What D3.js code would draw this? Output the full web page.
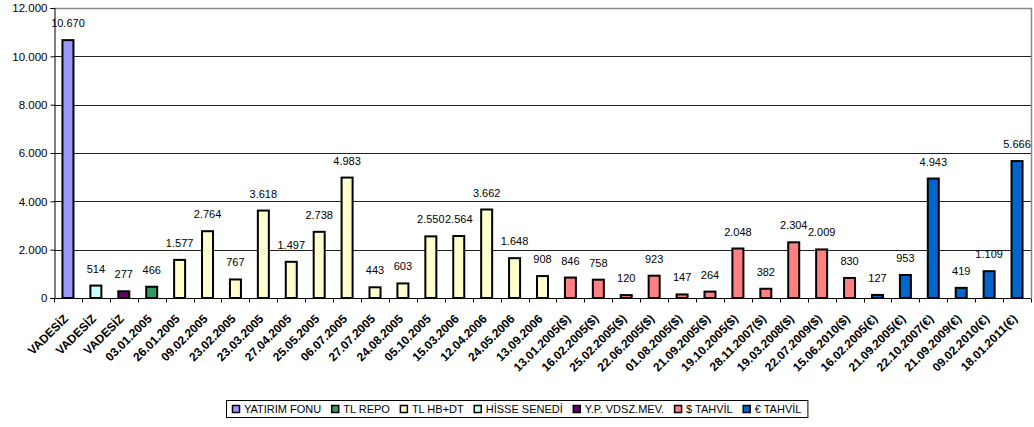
<!DOCTYPE html>
<html>
<head>
<meta charset="utf-8">
<script src="https://cdn.jsdelivr.net/npm/d3@7"></script>
<style>
	body { margin: 0; background: #fff; }
	text { font-family: Arial, "Liberation Sans", sans-serif; }
</style>
</head>
<body>
<script>
var labels = ["VADESİZ", "VADESİZ", "VADESİZ", "03.01.2005", "26.01.2005", "09.02.2005", "23.02.2005",
	"23.03.2005", "27.04.2005", "25.05.2005", "06.07.2005", "27.07.2005", "24.08.2005", "05.10.2005",
	"15.03.2006", "12.04.2006", "24.05.2006", "13.09.2006",
	"13.01.2005($)", "16.02.2005($)", "25.02.2005($)", "22.06.2005($)", "01.08.2005($)", "21.09.2005($)",
	"19.10.2005($)", "28.11.2007($)", "19.03.2008($)", "22.07.2009($)", "15.06.2010($)",
	"16.02.2005(€)", "21.09.2005(€)", "22.10.2007(€)", "21.09.2009(€)", "09.02.2010(€)", "18.01.2011(€)"]
var values = [10670, 514, 277, 466, 1577, 2764, 767, 3618, 1497, 2738, 4983, 443, 603, 2550, 2564, 3662, 1648, 908,
	846, 758, 120, 923, 147, 264, 2048, 382, 2304, 2009, 830,
	127, 953, 4943, 419, 1109, 5666]
var types = ["YATIRIM FONU", "HİSSE SENEDİ", "Y.P. VDSZ.MEV.", "TL REPO",
	"TL HB+DT", "TL HB+DT", "TL HB+DT", "TL HB+DT", "TL HB+DT", "TL HB+DT", "TL HB+DT",
	"TL HB+DT", "TL HB+DT", "TL HB+DT", "TL HB+DT", "TL HB+DT", "TL HB+DT", "TL HB+DT",
	"$ TAHVİL", "$ TAHVİL", "$ TAHVİL", "$ TAHVİL", "$ TAHVİL", "$ TAHVİL", "$ TAHVİL",
	"$ TAHVİL", "$ TAHVİL", "$ TAHVİL", "$ TAHVİL",
	"€ TAHVİL", "€ TAHVİL", "€ TAHVİL", "€ TAHVİL", "€ TAHVİL", "€ TAHVİL"]
var legendNames = ["YATIRIM FONU", "TL REPO", "TL HB+DT", "HİSSE SENEDİ", "Y.P. VDSZ.MEV.", "$ TAHVİL", "€ TAHVİL"]
var legendColors = ["#9999ff", "#339966", "#ffffcc", "#ccffff", "#660066", "#ff8080", "#0066cc"]
var yTicks = [0, 2000, 4000, 6000, 8000, 10000, 12000]

var w = 1034
var h = 427
var plotLeft = 54, plotRight = 1031, plotTop = 8, plotBottom = 298

var fmt = d3.formatLocale({ decimal: ",", thousands: ".", grouping: [3], currency: ["", ""] }).format(",d")

var svg = d3.select("body").append("svg")
	.attr("width", w)
	.attr("height", h)

var xScale = d3.scaleBand()
	.domain(d3.range(values.length))
	.range([plotLeft, plotRight])

var yScale = d3.scaleLinear()
	.domain([0, 12000])
	.range([plotBottom, plotTop])

var colorScale = d3.scaleOrdinal().domain(legendNames).range(legendColors)

// gridlines
svg.append("g")
	.selectAll("line")
	.data(yTicks.slice(1, -1))
	.enter().append("line")
	.attr("x1", plotLeft).attr("x2", plotRight)
	.attr("y1", (d) => Math.round(yScale(d)) + 0.5).attr("y2", (d) => Math.round(yScale(d)) + 0.5)
	.attr("stroke", "#222")

// plot border (top + right)
svg.append("path")
	.attr("d", "M" + plotLeft + "," + (plotTop + 0.5) + "H" + (plotRight + 0.5) + "V" + plotBottom)
	.attr("fill", "none")
	.attr("stroke", "#888")
	.attr("stroke-width", 1.5)

// bars
var bw = 11
svg.append("g")
	.selectAll("rect")
	.data(values)
	.enter().append("rect")
	.attr("x", (d, i) => xScale(i) + xScale.bandwidth() / 2 - bw / 2)
	.attr("y", (d) => yScale(d))
	.attr("width", bw)
	.attr("height", (d) => plotBottom - yScale(d))
	.attr("fill", (d, i) => colorScale(types[i]))
	.attr("stroke", "#000")
	.attr("stroke-width", 2)

// value labels
svg.append("g")
	.selectAll("text")
	.data(values)
	.enter().append("text")
	.attr("x", (d, i) => xScale(i) + xScale.bandwidth() / 2)
	.attr("y", (d) => yScale(d) - 13)
	.attr("text-anchor", "middle")
	.style("font-size", "11px")
	.attr("fill", "#000")
	.text((d) => fmt(d))

// y axis
var yAxis = d3.axisLeft(yScale).tickValues(yTicks).tickSize(4).tickFormat(fmt)
svg.append("g")
	.attr("transform", "translate(" + (plotLeft + 0.5) + ",0)")
	.call(yAxis)
	.call((g) => g.select(".domain").attr("stroke", "#000"))
	.call((g) => g.selectAll("text").style("font-family", "Arial, 'Liberation Sans', sans-serif")
		.style("font-size", "11.5px").attr("x", -7))

// x axis
var xg = svg.append("g")
	.attr("transform", "translate(0," + (plotBottom + 0.5) + ")")
xg.append("line")
	.attr("x1", plotLeft - 4).attr("x2", plotRight)
	.attr("stroke", "#000")
xg.selectAll("line.tick")
	.data(d3.range(values.length + 1))
	.enter().append("line")
	.attr("class", "tick")
	.attr("x1", (d) => Math.round(plotLeft + d * xScale.step()) + 0.5)
	.attr("x2", (d) => Math.round(plotLeft + d * xScale.step()) + 0.5)
	.attr("y1", 0).attr("y2", 4)
	.attr("stroke", "#000")
xg.selectAll("text")
	.data(labels)
	.enter().append("text")
	.attr("transform", (d, i) => "translate(" + (xScale(i) + xScale.bandwidth() / 2 - 2) + ",18) rotate(-45)")
	.attr("text-anchor", "end")
	.attr("dy", "0.35em")
	.style("font-size", "12px")
	.style("font-weight", "bold")
	.text((d) => d)

// legend
var legend = svg.append("g")
var lx = 230
var ly = 409
legendNames.forEach((name, i) => {
	legend.append("rect")
		.attr("x", lx + 2.5).attr("y", ly - 3.5)
		.attr("width", 7).attr("height", 7)
		.attr("fill", legendColors[i])
		.attr("stroke", "#000")
		.attr("stroke-width", 1.5)
	var t = legend.append("text")
		.attr("x", lx + 14).attr("y", ly)
		.attr("dy", "0.35em")
		.style("font-size", "11px")
		.text(name)
	lx += 14 + t.node().getComputedTextLength() + 8
})
legend.insert("rect", ":first-child")
	.attr("x", 226.5).attr("y", 400.5)
	.attr("width", lx - 226 - 2).attr("height", 17)
	.attr("fill", "#fff")
	.attr("stroke", "#000")
</script>
</body>
</html>
